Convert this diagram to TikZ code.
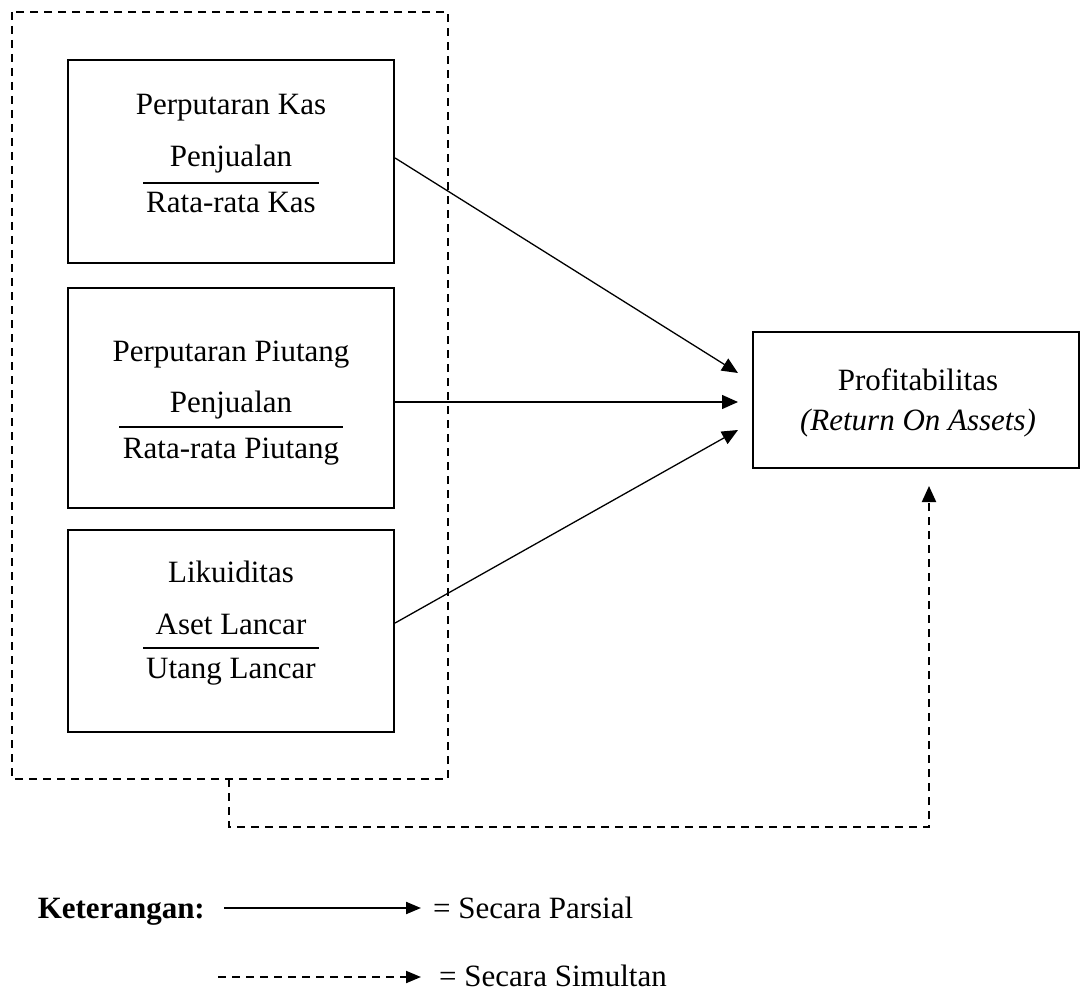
\documentclass[tikz,border=0pt]{standalone}
\usepackage{fontspec}
\setmainfont{Liberation Serif}
\usetikzlibrary{arrows.meta}
\begin{document}
\begin{tikzpicture}[x=1pt,y=-1pt,
  box/.style={draw,line width=2.2pt},
  txt/.style={anchor=base,inner sep=0pt,font=\fontsize{31}{36}\selectfont},
  bar/.style={line width=2.6pt},
  conn/.style={line width=1.3pt,-{Triangle[length=16pt,width=14pt]}},
  dconn/.style={line width=2pt,dash pattern=on 8pt off 6pt,-{Triangle[length=16pt,width=14pt]}},
  dbox/.style={draw,line width=2pt,dash pattern=on 8pt off 6pt}]
\useasboundingbox (0,0) rectangle (1081,992);
% outer dashed group
\draw[dbox] (12,12) rectangle (448,779);
\coordinate (gb) at (229,779);
% box 1
\node[box,minimum width=326pt,minimum height=203pt,inner sep=0pt] (b1) at (231,161.5) {};
\node[txt] (b1t) at (231,115) {Perputaran Kas};
\node[txt] (b1n) at (231,167) {Penjualan};
\node[txt] (b1d) at (231,213) {Rata-rata Kas};
\draw[bar] (143,183) -- (319,183);
% box 2
\node[box,minimum width=326pt,minimum height=220pt,inner sep=0pt] (b2) at (231,398) {};
\node[txt] (b2t) at (231,361) {Perputaran Piutang};
\node[txt] (b2n) at (231,412) {Penjualan};
\node[txt] (b2d) at (231,458) {Rata-rata Piutang};
\draw[bar] (119,427) -- (343,427);
% box 3
\node[box,minimum width=326pt,minimum height=202pt,inner sep=0pt] (b3) at (231,631) {};
\node[txt] (b3t) at (231,582) {Likuiditas};
\node[txt] (b3n) at (231,634) {Aset Lancar};
\node[txt] (b3d) at (231,678) {Utang Lancar};
\draw[bar] (143,648) -- (319,648);
% ROA
\node[box,minimum width=326pt,minimum height=136pt,inner sep=0pt] (roa) at (916,400) {};
\node[txt] (roat) at (918,390) {Profitabilitas};
\node[txt] (roai) at (918,430) {\itshape (Return On Assets)};
% arrows
\coordinate (t1) at (738,373);
\coordinate (t2) at (738,402);
\coordinate (t3) at (738,430);
\draw[conn] (b1.east |- 0,158) -- (t1);
\draw[conn] (b2.east |- 0,402) -- (t2);
\draw[conn] (b3.east |- 0,623) -- (t3);
% simultaneous dashed
\coordinate (c1) at (229,827);
\coordinate (c2) at (929,827);
\coordinate (t4) at (929,486);
\draw[dconn] (gb) -- (c1) -- (c2) -- (t4);
% legend
\node[txt,anchor=base east,font=\fontsize{31}{36}\selectfont\bfseries] (ket) at (205,918) {Keterangan:};
\coordinate (l1s) at (224,908);
\coordinate (l1e) at (421,908);
\draw[line width=2pt,-{Triangle[length=15pt,width=12pt]}] (l1s) -- (l1e);
\node[txt,anchor=base west] (lp) at (433,918) {= Secara Parsial};
\coordinate (l2s) at (218,977);
\coordinate (l2e) at (421,977);
\draw[line width=2pt,dash pattern=on 8pt off 6pt,-{Triangle[length=15pt,width=12pt]}] (l2s) -- (l2e);
\node[txt,anchor=base west] (ls) at (439,986) {= Secara Simultan};
\end{tikzpicture}
\end{document}
